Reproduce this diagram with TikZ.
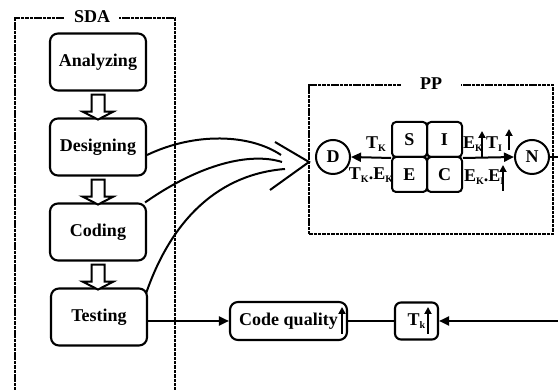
\documentclass[tikz,border=0pt]{standalone}
\usepackage{fontspec}
\setmainfont{Liberation Serif}
\usetikzlibrary{arrows.meta}
\newcommand\mysub[1]{{\fontsize{10}{10}\selectfont\raisebox{-3pt}{#1}}}
\begin{document}
\begin{tikzpicture}[x=1pt,y=1pt, font=\fontsize{18}{20}\selectfont\bfseries,
  stepbox/.style={draw, line width=2.1pt, rounded corners=8pt, minimum width=96pt, minimum height=57pt, inner sep=0pt},
  frame/.style={draw, line width=2.2pt, dash pattern=on 3.5pt off 0.9pt, inner sep=0pt},
  framelbl/.style={fill=white, inner ysep=2pt},
  cell/.style={draw, line width=2pt, rounded corners=4pt, minimum width=35pt, minimum height=35pt, inner sep=0pt},
  circ/.style={draw, circle, line width=2pt, minimum size=34pt, inner sep=0pt},
  conn/.style={line width=2pt},
  tip/.style={-{Triangle[length=10pt,width=9pt]}},
  hollow/.style={draw, line width=2pt, fill=white},
  lbl/.style={inner sep=0pt},
  up/.style={line width=2pt, -{Triangle[length=7pt,width=7pt]}},
  blockdown/.pic={\draw[hollow] (-6.5,0) -- (-6.5,-17) -- (-15.5,-17) -- (0,-25) -- (15.5,-17) -- (6.5,-17) -- (6.5,0) -- cycle;}
]
\useasboundingbox (0,0) rectangle (558,390);

% SDA frame
\node[frame, minimum width=160pt, minimum height=380pt, anchor=north west] (sda) at (14,373) {};
\node[framelbl, inner xsep=9pt] (sdal) at ([xshift=-3pt]sda.north) {SDA};

% process boxes
\node[stepbox] (ana) at (98,328) {Analyzing};
\node[stepbox] (des) at (98,243) {Designing};
\node[stepbox] (cod) at (98,158) {Coding};
\node[stepbox] (tes) at (99,73) {Testing};

\path ([yshift=-3pt]ana.south) pic {blockdown};
\path ([yshift=-3pt]des.south) pic {blockdown};
\path ([yshift=-3pt]cod.south) pic {blockdown};

% PP frame
\node[frame, minimum width=244pt, minimum height=149pt, anchor=north west] (pp) at (308,306) {};
\node[framelbl, inner xsep=19pt] (ppl) at (pp.north) {PP};

\node[circ] (D) at (333,233) {D};
\node[circ] (N) at (532,233) {N};

\node[cell] (S) at (409.5,250.5) {S};
\node[cell] (I) at (444.5,250.5) {I};
\node[cell] (E) at (409.5,215.5) {E};
\node[cell] (C) at (444.5,215.5) {C};

\draw[conn, tip] (S.south west) -- (D.east);
\draw[conn, tip] (I.south east) -- (N.west);

\node[lbl] (tk) at (376,246) {T\mysub{K}};
\node[lbl] (tkek) at (371,215) {T\mysub{K}.E\mysub{K}};
\node[lbl, anchor=west] (ek1) at (463,246) {E\mysub{K}};
\draw[up] (482,233) -- (482,259);
\node[lbl, anchor=west] (ti) at (486,246) {T\mysub{I}};
\draw[up] (509,240) -- (509,261);
\node[lbl, anchor=west] (ekei) at (464,213) {E\mysub{K}.E\mysub{I}};
\draw[up] (503,199) -- (503,225);

\coordinate (nedge) at (562,233);
\draw[conn] (N.east) -- (nedge);

% curves into PP
\coordinate (ppin) at (309,228);
\draw[conn] ([yshift=-8pt]des.east) .. controls (195,258) and (250,256) .. (281,235);
\draw[conn] ([xshift=-2pt]cod.north east) .. controls (200,226) and (250,238) .. (282,228);
\draw[conn] ([xshift=-2pt,yshift=-6pt]tes.north east) .. controls (172,172) and (220,216) .. (285,221);
\draw[conn] (ppin) ++(-34,20) -- (ppin) -- ++(-39,-28);

% bottom row
\node[stepbox, minimum width=117pt, minimum height=38pt] (cq) at (288.5,69) {Code quality};
\draw[up] (342,56) -- (342,83);
\node[stepbox, minimum width=43pt, minimum height=37pt, rounded corners=6pt] (tkb) at (416.5,69) {T\mysub{k}\hspace{14pt}};
\draw[up] (428,56) -- (428,83);

\draw[conn, tip] (tes.east |- cq.west) -- (cq.west);
\draw[conn] (cq.east) -- (tkb.west);
\coordinate (redge) at (562,69);
\draw[conn, tip] (redge) -- (tkb.east);
\end{tikzpicture}
\end{document}
